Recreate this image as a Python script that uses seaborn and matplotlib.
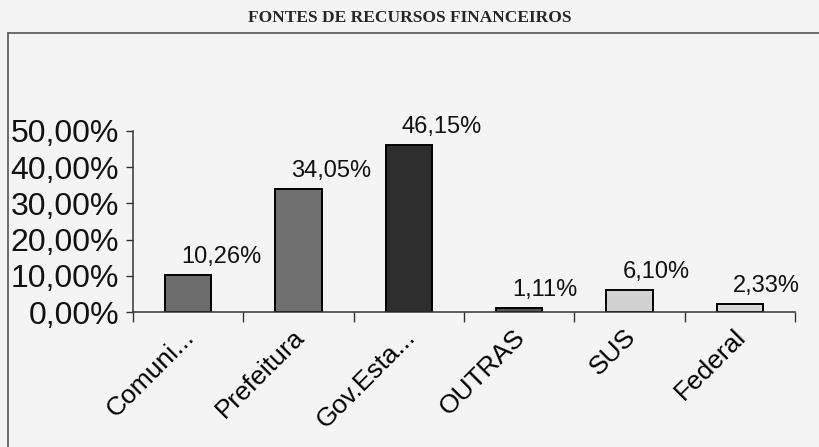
import matplotlib
matplotlib.use("Agg")
import matplotlib.pyplot as plt
import matplotlib.ticker as mticker
import matplotlib.transforms as mtransforms
import numpy as np
import pandas as pd
import seaborn as sb

TITLE = "FONTES DE RECURSOS FINANCEIROS"
CATEGORIES = ["Comuni...", "Prefeitura", "Gov.Esta...", "OUTRAS", "SUS", "Federal"]
SHARES = [0.1026, 0.3405, 0.4615, 0.0111, 0.0610, 0.0233]
BAR_COLORS = ["#6c6c6c", "#707070", "#2e2e2e", "#545454", "#d2d2d2", "#d6d6d6"]
Y_TICKS = [0.0, 0.1, 0.2, 0.3, 0.4, 0.5]

BG = "#f4f4f4"


def pct_br(v, _pos=None):
    return f"{v * 100:.2f}%".replace(".", ",")


sb.set_theme(style="white")
plt.rcParams["font.family"] = ["Liberation Sans", "DejaVu Sans"]

fig = plt.figure(figsize=(8.19, 4.47), dpi=100, facecolor=BG)

# outer frame (top and left edges visible, the rest runs off the scan)
fig.add_artist(plt.Line2D([8 / 819, 1.0], [1 - 33 / 447, 1 - 33 / 447],
                          transform=fig.transFigure, color="#555555", lw=1.2))
fig.add_artist(plt.Line2D([8 / 819, 8 / 819], [0.0, 1 - 33 / 447],
                          transform=fig.transFigure, color="#555555", lw=1.2))

fig.text(410 / 819, 1 - 18 / 447, TITLE, ha="center", va="center",
         family=["Liberation Serif", "DejaVu Serif"], fontweight="bold", fontsize=12.5)

ax = fig.add_axes([133 / 819, 1 - 312 / 447, 662 / 819, 181 / 447])
ax.set_facecolor(BG)

df = pd.DataFrame({"fonte": CATEGORIES, "share": SHARES})
sb.barplot(df, x="fonte", y="share", hue="fonte", palette=BAR_COLORS,
           legend=False, width=0.42, edgecolor="black", linewidth=1.4,
           saturation=1, ax=ax)

ax.set_xlim(-0.5, len(CATEGORIES) - 0.5)
ax.set_ylim(0, 0.5)
ax.set_xlabel("")
ax.set_ylabel("")

for i, v in enumerate(SHARES):
    ax.annotate(pct_br(v), (i, v), xytext=(-5, 5), textcoords="offset points",
                ha="left", va="bottom", fontsize=17, color="#111111")

ax.set_yticks(Y_TICKS)
ax.yaxis.set_major_formatter(mticker.FuncFormatter(pct_br))
ax.tick_params(axis="y", length=5, width=1, color="#333333", labelsize=23,
               labelcolor="#111111", pad=5, left=True)

ax.set_xticks(np.arange(-0.5, len(CATEGORIES)), labels=[""] * (len(CATEGORIES) + 1))
ax.tick_params(axis="x", which="major", length=7, width=1, color="#333333", bottom=True)
ax.set_xticks(np.arange(len(CATEGORIES)), labels=CATEGORIES, minor=True)
ax.tick_params(axis="x", which="minor", length=0, pad=9, labelsize=19,
               labelcolor="#000000")
shift = mtransforms.ScaledTranslation(-6 / 100, 0, fig.dpi_scale_trans)
for lbl in ax.get_xticklabels(minor=True):
    lbl.set_rotation(45)
    lbl.set_ha("right")
    lbl.set_rotation_mode("anchor")
    lbl.set_transform(lbl.get_transform() + shift)

sb.despine(ax=ax)
for side in ("left", "bottom"):
    ax.spines[side].set_color("#333333")
    ax.spines[side].set_linewidth(1.1)

fig.savefig("out.png", dpi=100, facecolor=BG)
